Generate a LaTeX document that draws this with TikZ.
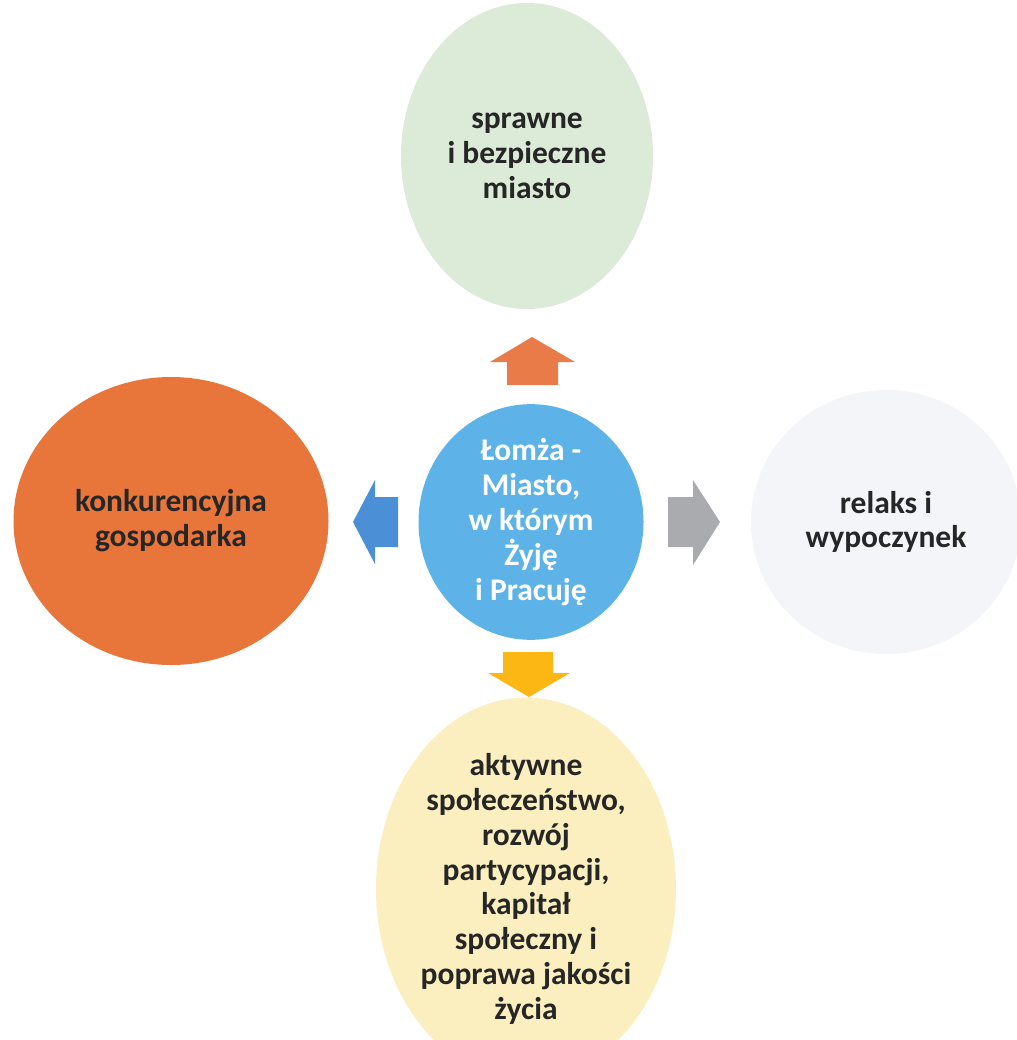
\documentclass[tikz,border=0pt]{standalone}
\usepackage{fontspec}
\setmainfont{Carlito}
\usetikzlibrary{shapes.geometric}
\definecolor{cTop}{HTML}{DCEBD7}
\definecolor{cLeft}{HTML}{E8763B}
\definecolor{cRight}{HTML}{F3F5F8}
\definecolor{cBot}{HTML}{FBEFBF}
\definecolor{cMid}{HTML}{5DB3E8}
\definecolor{aUp}{HTML}{E97B48}
\definecolor{aLeft}{HTML}{4B8FD6}
\definecolor{aRight}{HTML}{A9ABAF}
\definecolor{aDown}{HTML}{FDB714}
\tikzset{
  bubble/.style={ellipse, inner sep=0pt, align=center, font=\fontsize{31.5}{34.8}\selectfont\bfseries, text=black!85}
}
\begin{document}
\begin{tikzpicture}[x=1pt,y=-1pt]
\useasboundingbox (0,0) rectangle (1016,1040);
\fill[white] (0,0) rectangle (1016,1040);
\node[bubble, fill=cTop, minimum width=252pt, minimum height=306pt] (top) at (527,156) {sprawne\\i bezpieczne\\miasto};
\node[bubble, fill=cLeft, minimum width=315pt, minimum height=288pt] (left) at (171,521) {konkurencyjna\\gospodarka};
\node[bubble, fill=cRight, minimum width=270pt, minimum height=264pt] (right) at (886,522) {relaks i\\wypoczynek};
\node[bubble, fill=cBot, minimum width=300pt, minimum height=316pt] (bot) at (526,889) {aktywne\\społeczeństwo,\\rozwój\\partycypacji,\\kapitał\\społeczny i\\poprawa jakości\\życia};
\node[bubble, fill=cMid, text=white, minimum width=225pt, minimum height=225pt] (mid) at (531,522) {Łomża -\\Miasto,\\w którym\\Żyję\\i Pracuję};
% block arrows
\fill[aUp] (507,385) -- (507,362) -- (490,362) -- (532,337) -- (575,362) -- (558,362) -- (558,385) -- cycle;
\fill[aLeft] (398,497) -- (375,497) -- (375,480) -- (353,522) -- (375,564) -- (375,547) -- (398,547) -- cycle;
\fill[aRight] (668,497) -- (693,497) -- (693,480) -- (720,522) -- (693,565) -- (693,547) -- (668,547) -- cycle;
\fill[aDown] (503,652) -- (503,673) -- (488,673) -- (529,697) -- (570,673) -- (553,673) -- (553,652) -- cycle;
\end{tikzpicture}
\end{document}
